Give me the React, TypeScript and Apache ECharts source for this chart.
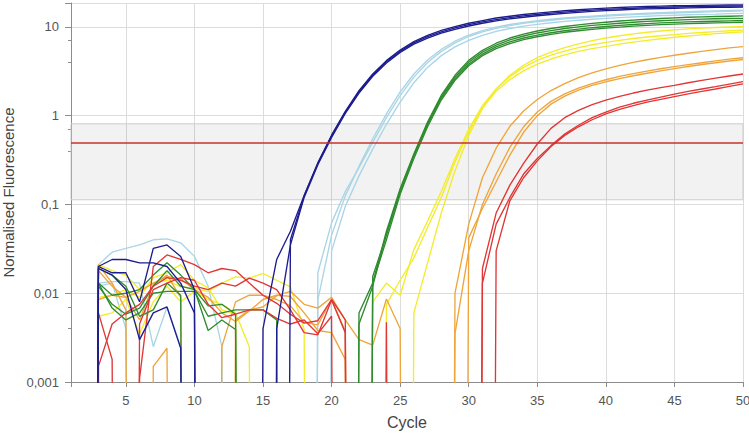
import React, { useEffect, useRef } from "react";
import * as echarts from "echarts";

// Cycle of the first value in every curve array (values run from cycle 2 to cycle 50).
const firstCycle = 2;
// 0 means "at or below zero" (drawn as a drop below the axis).
const darkBlue1 = [
  0, 0.02, 0.024, 0.024, 0.022, 0.022, 0.02, 0.013, 0.006, 0,
  0, 0, 0, 0.004, 0.024, 0.05, 0.126, 0.295, 0.603, 1.12,
  1.91, 2.95, 4.17, 5.5, 6.84, 8.04, 9.12, 10.1, 11.0, 11.8,
  12.6, 13.2, 13.8, 14.3, 14.8, 15.2, 15.6, 15.95, 16.3, 16.55,
  16.8, 17.0, 17.15, 17.3, 17.4, 17.5, 17.6, 17.65, 17.7,
];
const darkBlue2 = [
  0, 0.02, 0.017, 0.017, 0.008, 0.032, 0.035, 0.026, 0.011, 0,
  0, 0, 0, 0, 0.004, 0.035, 0.12, 0.28, 0.57, 1.06,
  1.8, 2.78, 3.93, 5.17, 6.4, 7.5, 8.5, 9.4, 10.25, 11.0,
  11.7, 12.3, 12.85, 13.35, 13.8, 14.2, 14.6, 14.95, 15.25, 15.5,
  15.75, 15.95, 16.1, 16.25, 16.4, 16.5, 16.6, 16.65, 16.7,
];
const darkBlue3 = [
  0, 0.019, 0.016, 0.011, 0.003, 0.006, 0.007, 0.0024, 0, 0,
  0, 0, 0, 0, 0, 0.04, 0.125, 0.29, 0.59, 1.09,
  1.86, 2.87, 4.05, 5.33, 6.62, 7.77, 8.8, 9.75, 10.6, 11.4,
  12.1, 12.75, 13.3, 13.8, 14.3, 14.7, 15.1, 15.45, 15.75, 16.0,
  16.25, 16.45, 16.6, 16.75, 16.9, 17.0, 17.1, 17.15, 17.2,
];
const lightBlue1 = [
  0, 0.021, 0.029, 0.032, 0.035, 0.04, 0.041, 0.037, 0.026, 0.012,
  0.0025, 0, 0, 0, 0, 0, 0, 0.0084, 0.045, 0.125,
  0.27, 0.55, 1.05, 1.85, 2.95, 4.25, 5.6, 6.9, 8.1, 9.1,
  9.95, 10.65, 11.25, 11.75, 12.2, 12.6, 12.95, 13.25, 13.55, 13.8,
  14.05, 14.25, 14.45, 14.65, 14.85, 15.0, 15.15, 15.3, 15.4,
];
const lightBlue2 = [
  0, 0.013, 0.0135, 0.0135, 0.013, 0.0025, 0.007, 0.0025, 0, 0,
  0, 0, 0, 0, 0, 0, 0, 0.017, 0.062, 0.14,
  0.26, 0.5, 0.95, 1.68, 2.72, 3.98, 5.3, 6.6, 7.8, 8.8,
  9.65, 10.35, 10.95, 11.45, 11.9, 12.3, 12.65, 12.95, 13.25, 13.5,
  13.75, 13.95, 14.15, 14.35, 14.55, 14.7, 14.85, 15.0, 15.15,
];
const lightBlue3 = [
  0, 0.012, 0.013, 0.004, 0, 0, 0, 0, 0, 0,
  0, 0, 0, 0, 0, 0, 0, 0, 0.03, 0.095,
  0.21, 0.42, 0.8, 1.42, 2.35, 3.5, 4.75, 5.95, 7.05, 8.05,
  8.9, 9.6, 10.2, 10.7, 11.15, 11.55, 11.9, 12.2, 12.5, 12.75,
  13.0, 13.2, 13.4, 13.55, 13.7, 13.85, 13.95, 14.1, 14.2,
];
const green1 = [
  0, 0.013, 0.0095, 0.01, 0.011, 0.016, 0.022, 0.016, 0.011, 0.0072,
  0.0075, 0.0058, 0, 0, 0, 0, 0, 0, 0, 0,
  0.006, 0.013, 0.05, 0.15, 0.37, 0.85, 1.7, 2.85, 4.2, 5.45,
  6.55, 7.5, 8.3, 9.0, 9.6, 10.1, 10.55, 10.95, 11.3, 11.65,
  11.95, 12.2, 12.45, 12.65, 12.85, 13.0, 13.1, 13.2, 13.3,
];
const green2 = [
  0, 0.012, 0.0075, 0.0058, 0.0068, 0.012, 0.018, 0.012, 0.011, 0.0038,
  0.005, 0.0039, 0, 0, 0, 0, 0, 0, 0, 0,
  0.0045, 0.012, 0.047, 0.145, 0.36, 0.82, 1.63, 2.72, 4.0, 5.2,
  6.25, 7.15, 7.9, 8.55, 9.1, 9.6, 10.0, 10.4, 10.7, 11.0,
  11.3, 11.55, 11.75, 11.95, 12.1, 12.25, 12.35, 12.45, 12.5,
];
const green3 = [
  0, 0.013, 0.0068, 0.005, 0.006, 0.01, 0.0105, 0.0105, 0.0105, 0.0055,
  0.006, 0.0065, 0.0065, 0.0065, 0.005, 0, 0, 0, 0, 0,
  0, 0.0154, 0.045, 0.14, 0.35, 0.79, 1.57, 2.6, 3.8, 4.95,
  5.95, 6.8, 7.5, 8.1, 8.6, 9.05, 9.45, 9.8, 10.1, 10.4,
  10.65, 10.9, 11.1, 11.25, 11.4, 11.5, 11.6, 11.7, 11.8,
];
const green4 = [
  0, 0.019, 0.016, 0.012, 0.0055, 0.0065, 0.013, 0.0095, 0, 0,
  0, 0, 0, 0, 0, 0, 0, 0, 0, 0,
  0, 0.013, 0.04, 0.13, 0.33, 0.75, 1.5, 2.5, 3.65, 4.75,
  5.7, 6.5, 7.2, 7.75, 8.25, 8.7, 9.05, 9.4, 9.7, 9.95,
  10.2, 10.4, 10.6, 10.75, 10.9, 11.0, 11.1, 11.2, 11.3,
];
const yellow1 = [
  0, 0.021, 0.018, 0.016, 0.011, 0.013, 0.014, 0.0118, 0.0114, 0.0104,
  0.013, 0.0153, 0.0148, 0.0167, 0.014, 0.0118, 0.0039, 0, 0, 0,
  0, 0, 0, 0, 0.006, 0.022, 0.08, 0.24, 0.6, 1.2,
  2.0, 2.85, 3.7, 4.5, 5.2, 5.85, 6.45, 7.0, 7.5, 7.95,
  8.35, 8.7, 9.0, 9.25, 9.5, 9.7, 9.85, 10.0, 10.1,
];
const yellow2 = [
  0, 0.0055, 0.006, 0.0085, 0.0035, 0.008, 0.012, 0.008, 0.0105, 0.0085,
  0.0075, 0.006, 0.0025, 0, 0, 0, 0, 0, 0, 0,
  0, 0.008, 0.013, 0.0095, 0.031, 0.065, 0.14, 0.33, 0.7, 1.3,
  2.0, 2.75, 3.5, 4.2, 4.8, 5.35, 5.85, 6.3, 6.7, 7.05,
  7.4, 7.7, 7.95, 8.2, 8.45, 8.65, 8.85, 9.05, 9.2,
];
const yellow3 = [
  0, 0.009, 0.0095, 0.011, 0.009, 0.015, 0.017, 0.021, 0.014, 0.0115,
  0.0065, 0.0058, 0, 0, 0, 0, 0, 0, 0, 0,
  0, 0, 0.0075, 0.014, 0.025, 0.055, 0.12, 0.3, 0.66, 1.22,
  1.88, 2.55, 3.2, 3.8, 4.35, 4.85, 5.3, 5.7, 6.05, 6.4,
  6.75, 7.05, 7.35, 7.65, 7.9, 8.15, 8.4, 8.6, 8.8,
];
const orange1 = [
  0, 0.021, 0.013, 0.0065, 0, 0.0015, 0.0024, 0, 0, 0,
  0.0025, 0.008, 0.0095, 0.0095, 0.0085, 0.0072, 0.0047, 0.0044, 0.0085, 0.0037,
  0, 0, 0, 0, 0, 0, 0, 0.01, 0.06, 0.2,
  0.43, 0.76, 1.13, 1.52, 1.92, 2.3, 2.68, 3.03, 3.37, 3.68,
  3.98, 4.27, 4.54, 4.8, 5.05, 5.3, 5.55, 5.8, 6.0,
];
const orange2 = [
  0, 0.018, 0.012, 0.009, 0.005, 0.0125, 0.016, 0.009, 0, 0,
  0, 0.005, 0.0065, 0.007, 0.0094, 0.0105, 0.0075, 0.0068, 0.009, 0.005,
  0.003, 0.0026, 0.0086, 0.004, 0, 0, 0, 0.0035, 0.03, 0.1,
  0.22, 0.44, 0.75, 1.1, 1.45, 1.76, 2.04, 2.3, 2.54, 2.77,
  2.98, 3.18, 3.38, 3.57, 3.76, 3.95, 4.14, 4.33, 4.5,
];
const orange3 = [
  0, 0.0085, 0.0095, 0.009, 0.0105, 0.013, 0.0155, 0.0145, 0.011, 0.009,
  0.006, 0.0048, 0.0063, 0.0085, 0.0095, 0.0092, 0.006, 0.0038, 0.0036, 0.0018,
  0, 0, 0, 0, 0, 0, 0, 0, 0.042, 0.09,
  0.18, 0.36, 0.65, 1.0, 1.35, 1.66, 1.94, 2.19, 2.41, 2.62,
  2.82, 3.01, 3.2, 3.39, 3.58, 3.77, 3.95, 4.13, 4.3,
];
const red1 = [
  0, 0.006, 0.0018, 0, 0.0045, 0.011, 0.013, 0.015, 0.014, 0.0075,
  0.0053, 0.0058, 0.0065, 0.0065, 0.0052, 0.0045, 0.005, 0.0035, 0.0055, 0,
  0, 0, 0, 0, 0, 0, 0, 0, 0, 0.019,
  0.08, 0.165, 0.29, 0.48, 0.72, 0.95, 1.15, 1.33, 1.5, 1.65,
  1.8, 1.94, 2.07, 2.2, 2.35, 2.5, 2.65, 2.8, 2.95,
];
const red2 = [
  0, 0.0015, 0.0045, 0.006, 0.0075, 0.012, 0.015, 0.014, 0.012, 0.011,
  0.013, 0.012, 0.0148, 0.013, 0.011, 0.0065, 0.0036, 0.0034, 0.0084, 0.0036,
  0, 0, 0, 0, 0, 0, 0, 0, 0, 0.013,
  0.06, 0.12, 0.22, 0.33, 0.46, 0.62, 0.78, 0.95, 1.1, 1.25,
  1.38, 1.5, 1.62, 1.75, 1.88, 2.0, 2.13, 2.27, 2.42,
];
const red3 = [
  0, 0.0015, 0, 0, 0.0011, 0.02, 0.027, 0.024, 0.021, 0.017,
  0.019, 0.018, 0.013, 0.0095, 0.0077, 0.0058, 0.0046, 0.0049, 0.0085, 0.005,
  0, 0, 0.0047, 0, 0, 0, 0, 0, 0, 0,
  0.03, 0.11, 0.2, 0.31, 0.45, 0.6, 0.75, 0.9, 1.05, 1.18,
  1.3, 1.42, 1.53, 1.64, 1.76, 1.88, 2.0, 2.14, 2.28,
];

const threshold = 0.5;
const bandLow = 0.113;
const bandHigh = 0.81;
const yMin = 0.001;
const yMax = 18.6;
const xMin = 1;
const xMax = 50;
const yMinorTicks = [7, 4, 0.7, 0.4, 0.07, 0.04, 0.007, 0.004];

const COLORS = {
  darkBlue: "#1d1d8e",
  lightBlue: "#a9d5e6",
  green: "#2f8c2f",
  yellow: "#f3ec2c",
  orange: "#efa53c",
  red: "#e03636",
};

const curves: { data: number[]; color: string }[] = [
  { data: lightBlue1, color: COLORS.lightBlue },
  { data: lightBlue2, color: COLORS.lightBlue },
  { data: lightBlue3, color: COLORS.lightBlue },
  { data: yellow1, color: COLORS.yellow },
  { data: yellow2, color: COLORS.yellow },
  { data: yellow3, color: COLORS.yellow },
  { data: orange1, color: COLORS.orange },
  { data: orange2, color: COLORS.orange },
  { data: orange3, color: COLORS.orange },
  { data: green1, color: COLORS.green },
  { data: green2, color: COLORS.green },
  { data: green3, color: COLORS.green },
  { data: green4, color: COLORS.green },
  { data: red1, color: COLORS.red },
  { data: red2, color: COLORS.red },
  { data: red3, color: COLORS.red },
  { data: darkBlue1, color: COLORS.darkBlue },
  { data: darkBlue2, color: COLORS.darkBlue },
  { data: darkBlue3, color: COLORS.darkBlue },
];

const BELOW = 1e-30;
const FONT = "'Liberation Sans', Arial, sans-serif";

export default function App() {
  const ref = useRef<HTMLDivElement>(null);
  useEffect(() => {
    if (!ref.current) return;
    const chart = echarts.init(ref.current, undefined, { renderer: "svg" });
    const series: any[] = [
      {
        type: "line",
        data: [],
        z: 1,
        silent: true,
        markArea: {
          silent: true,
          itemStyle: { color: "rgba(0,0,0,0.05)", borderColor: "#cccccc", borderWidth: 1 },
          data: [[{ yAxis: bandLow }, { yAxis: bandHigh }]],
        },
        markLine: {
          silent: true,
          symbol: ["none", "none"],
          label: { show: false },
          lineStyle: { color: "#c9302c", width: 1.5, type: "solid" },
          data: [{ yAxis: threshold }],
        },
      },
      ...curves.map((c) => ({
        type: "line",
        z: 2,
        silent: true,
        showSymbol: false,
        symbol: "none",
        clip: true,
        lineStyle: { color: c.color, width: 1.35 },
        data: c.data.map((v, i) => [firstCycle + i, v > 0 ? v : BELOW]),
      })),
    ];
    chart.setOption({
      animation: false,
      textStyle: { fontFamily: FONT },
      grid: {
        left: 71,
        right: 6,
        top: 3,
        bottom: 51,
        containLabel: false,
        outerBoundsMode: "none",
      },
      xAxis: {
        type: "value",
        min: xMin,
        max: xMax,
        splitNumber: 10,
        name: "Cycle",
        nameLocation: "middle",
        nameGap: 32,
        nameTextStyle: { fontSize: 16, color: "#444", fontFamily: FONT },
        axisLine: { show: true, lineStyle: { color: "#8c8c8c" } },
        axisTick: { show: true, length: 5, lineStyle: { color: "#8c8c8c" } },
        axisLabel: {
          color: "#555",
          fontSize: 13,
          margin: 12,
          formatter: (v: number) => (v % 5 === 0 ? String(v) : ""),
        },
        splitLine: { show: true, lineStyle: { color: "#dcdcdc" } },
      },
      yAxis: [
        {
          type: "log",
          logBase: 10,
          min: yMin,
          max: yMax,
          name: "Normalised Fluorescence",
          nameLocation: "middle",
          nameGap: 53,
          nameRotate: 90,
          nameTextStyle: { fontSize: 15, color: "#444", fontFamily: FONT },
          axisLine: { show: true, lineStyle: { color: "#8c8c8c" } },
          axisTick: { show: true, length: 6, lineStyle: { color: "#8c8c8c" } },
          axisLabel: {
            color: "#555",
            fontSize: 13,
            margin: 12,
            formatter: (v: number) => {
              const l = Math.log10(v);
              if (Math.abs(l - Math.round(l)) > 1e-6) return "";
              return String(v).replace(".", ",");
            },
          },
          splitLine: { show: true, lineStyle: { color: "#dcdcdc" } },
        },
        {
          type: "log",
          logBase: 10,
          min: yMin,
          max: yMax,
          position: "left",
          axisLine: { show: false },
          axisLabel: { show: false },
          splitLine: { show: false },
          axisTick: {
            show: true,
            length: 3,
            customValues: yMinorTicks,
            lineStyle: { color: "#8c8c8c" },
          },
        },
      ],
      series,
    });
    return () => chart.dispose();
  }, []);
  return (
    <div
      ref={ref}
      style={{ position: "absolute", left: 0, top: 0, width: 749, height: 433, background: "#fff" }}
    />
  );
}
